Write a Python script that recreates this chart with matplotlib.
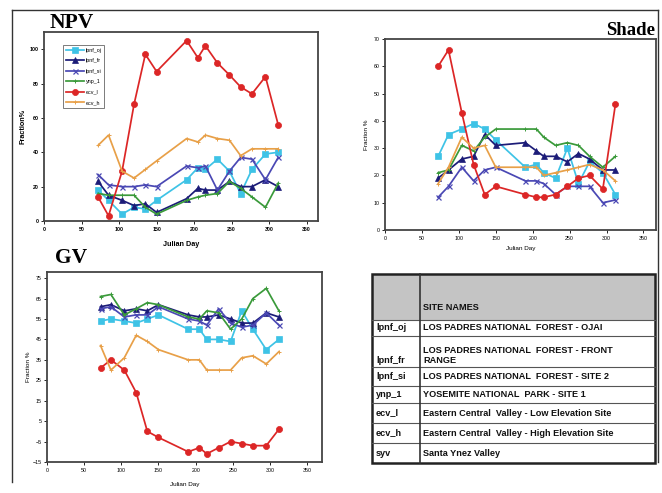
import matplotlib
matplotlib.use("Agg")
import matplotlib.pyplot as plt
from matplotlib.patches import Rectangle

plt.rcParams['font.family'] = ['Liberation Sans', 'DejaVu Sans']

# ---- data ----
days = [72, 86, 104, 120, 135, 150, 190, 205, 215, 231, 247, 262, 277, 295, 312]
sites = ['lpnf_oj', 'lpnf_fr', 'lpnf_si', 'ynp_1', 'ecv_l', 'ecv_h']

npv_lpnf_oj = [18, 12, 4, 8, 7, 12, 24, 31, 30, 36, 29, 16, 30, 39, 40]
npv_lpnf_fr = [23, 15, 12, 9, 10, 5, 13, 19, 18, 18, 23, 20, 20, 24, 20]
npv_lpnf_si = [27, 21, 20, 20, 21, 20, 32, 31, 32, 18, 29, 37, 36, 24, 37]
npv_ynp_1 = [16, 15, 15, 15, 8, 4, 12, 14, 15, 16, 23, 19, 14, 8, 22]
npv_ecv_l = [14, 3, 29, 68, 97, 87, 105, 95, 102, 92, 85, 78, 74, 84, 56]
npv_ecv_h = [44, 50, 29, 25, 30, 35, 48, 46, 50, 48, 47, 38, 42, 42, 42]

shade_lpnf_oj = [27, 35, 37, 39, 37, 33, 23, 24, 21, 19, 30, 17, 25, 21, 13]
shade_lpnf_fr = [19, 22, 26, 27, 35, 31, 32, 29, 27, 27, 25, 28, 26, 22, 22]
shade_lpnf_si = [12, 16, 23, 18, 22, 23, 18, 18, 17, 13, 16, 16, 16, 10, 11]
shade_ynp_1 = [21, 22, 31, 29, 34, 37, 37, 37, 34, 31, 32, 31, 27, 23, 27]
shade_ecv_l = [60, 66, 43, 24, 13, 16, 13, 12, 12, 13, 16, 19, 20, 15, 46]
shade_ecv_h = [17, 23, 34, 30, 31, 23, 23, 23, 20, 21, 22, 23, 24, 22, 18]

gv_lpnf_oj = [54, 55, 54, 53, 55, 57, 50, 50, 45, 45, 44, 59, 50, 40, 45]
gv_lpnf_fr = [61, 62, 59, 60, 59, 62, 57, 56, 56, 57, 55, 53, 53, 58, 56]
gv_lpnf_si = [60, 61, 56, 57, 57, 61, 55, 54, 52, 60, 53, 51, 52, 58, 52]
gv_ynp_1 = [66, 67, 57, 60, 63, 62, 56, 55, 59, 58, 50, 55, 65, 70, 59]
gv_ecv_l = [31, 35, 30, 19, 0, -3, -10, -8, -11, -8, -5, -6, -7, -7, 1]
gv_ecv_h = [42, 30, 36, 47, 44, 40, 35, 35, 30, 30, 30, 36, 37, 33, 39]

table_codes = ['lpnf_oj', 'lpnf_fr', 'lpnf_si', 'ynp_1', 'ecv_l', 'ecv_h', 'syv']
table_names = ['LOS PADRES NATIONAL  FOREST - OJAI',
               'LOS PADRES NATIONAL  FOREST - FRONT\nRANGE',
               'LOS PADRES NATIONAL  FOREST - SITE 2',
               'YOSEMITE NATIONAL  PARK - SITE 1',
               'Eastern Central  Valley - Low Elevation Site',
               'Eastern Central  Valley - High Elevation Site',
               'Santa Ynez Valley']

# ---- styles ----
styles = {
    'lpnf_oj': dict(color='#3ec3e6', marker='s', ms=4.0),
    'lpnf_fr': dict(color='#1c1c78', marker='^', ms=4.0),
    'lpnf_si': dict(color='#4a48b4', marker='x', ms=3.6, mew=0.9),
    'ynp_1': dict(color='#3a9a3a', marker='+', ms=3.0, mew=0.7),
    'ecv_l': dict(color='#dc2626', marker='o', ms=4.4),
    'ecv_h': dict(color='#e8a048', marker='+', ms=3.0, mew=0.7),
}

W, H = 662, 493
fig = plt.figure(figsize=(W / 100, H / 100), dpi=100)

# overlay in pixel coordinates for frame + table
bg = fig.add_axes([0, 0, 1, 1])
bg.set_xlim(0, W)
bg.set_ylim(H, 0)
bg.axis('off')
bg.plot([12, 12], [482, 10], color='#333333', lw=1.0)
bg.plot([12, 658], [10, 10], color='#333333', lw=1.0)
bg.plot([658, 658], [10, 462], color='#333333', lw=1.0)


def pix_axes(l, t, r, b):
    return fig.add_axes([l / W, 1 - b / H, (r - l) / W, (b - t) / H])


def draw_panel(ax, series, xlim, ylim, yticks, bold=False):
    for name, vals in zip(sites, series):
        st = styles[name]
        ax.plot(days, vals, lw=1.25, label=name, color=st['color'], marker=st['marker'],
                ms=st['ms'], mew=st.get('mew', 0.5), mec=st['color'])
    ax.set_xlim(*xlim)
    ax.set_ylim(*ylim)
    ax.set_xticks(range(0, 351, 50))
    ax.set_yticks(yticks)
    wt = 'bold' if bold else 'normal'
    ax.tick_params(direction='out', length=2, width=0.6, labelsize=3.8, pad=2)
    for lab in ax.get_xticklabels() + ax.get_yticklabels():
        lab.set_fontweight(wt)
    for sp in ax.spines.values():
        sp.set_linewidth(1.3)
        sp.set_color('#444444')


# NPV
ax1 = pix_axes(44, 32, 318, 221)
draw_panel(ax1, [npv_lpnf_oj, npv_lpnf_fr, npv_lpnf_si, npv_ynp_1, npv_ecv_l, npv_ecv_h],
           (0, 365), (0, 110), range(0, 101, 20), bold=True)
ax1.set_xlabel('Julian Day', fontsize=5.2, fontweight='bold', labelpad=7)
ax1.set_ylabel('Fraction%', fontsize=5.2, fontweight='bold', labelpad=2)
leg = ax1.legend(loc='upper left', bbox_to_anchor=(0.069, 0.931), borderaxespad=0,
                 fontsize=3.9, fancybox=False, edgecolor='#666666', framealpha=1,
                 handlelength=3.4, labelspacing=1.0, borderpad=0.5, handletextpad=0.3)
leg.get_frame().set_linewidth(0.6)
fig.text(50 / W, 1 - 28 / H, 'NPV', fontsize=15.5, fontweight='bold', family='Liberation Serif')

# Shade
ax2 = pix_axes(385, 39, 656, 230)
draw_panel(ax2, [shade_lpnf_oj, shade_lpnf_fr, shade_lpnf_si, shade_ynp_1, shade_ecv_l, shade_ecv_h],
           (0, 367), (0, 70), range(0, 71, 10))
ax2.set_xlabel('Julian Day', fontsize=4.6, labelpad=4)
ax2.set_ylabel('Fraction %', fontsize=4.6, labelpad=3)
fig.text(655 / W, 1 - 35 / H, 'Shade', fontsize=13.5, fontweight='bold', family='Liberation Serif', ha='right')

# GV
ax3 = pix_axes(47, 272, 322, 462)
draw_panel(ax3, [gv_lpnf_oj, gv_lpnf_fr, gv_lpnf_si, gv_ynp_1, gv_ecv_l, gv_ecv_h],
           (0, 370), (-15, 78), range(-15, 76, 10))
ax3.set_xlabel('Julian Day', fontsize=4.6, labelpad=7)
ax3.set_ylabel('Fraction %', fontsize=4.6, labelpad=1)
fig.text(55 / W, 1 - 263 / H, 'GV', fontsize=15.5, fontweight='bold', family='Liberation Serif')

# site table
tl, tr, col = 372, 655, 420
rows = [274, 320, 336, 367, 386, 403, 423, 443, 463]
bg.add_patch(Rectangle((tl, rows[0]), tr - tl, rows[1] - rows[0], facecolor='#c4c4c4', edgecolor='none'))
for y in rows[1:-1]:
    bg.plot([tl, tr], [y, y], color='#555555', lw=0.8)
bg.plot([col, col], [rows[0], rows[-1]], color='#333333', lw=1.2)
bg.add_patch(Rectangle((tl, rows[0]), tr - tl, rows[-1] - rows[0], facecolor='none',
                       edgecolor='#222222', lw=1.8))
tfont = dict(fontsize=6.6, fontweight='bold', color='#111111')
bg.text(col + 3, rows[1] - 13, 'SITE NAMES', va='center', **tfont)
for i, (code, name) in enumerate(zip(table_codes, table_names)):
    top, bot = rows[i + 1], rows[i + 2]
    if '\n' in name:
        bg.text(tl + 4, bot - 2, code, va='bottom', **tfont)
        bg.text(col + 3, bot - 2, name, va='bottom', linespacing=1.15, **tfont)
    else:
        bg.text(tl + 4, (top + bot) / 2, code, va='center', **tfont)
        bg.text(col + 3, (top + bot) / 2, name, va='center', **tfont)

fig.savefig('out.png', dpi=100)
